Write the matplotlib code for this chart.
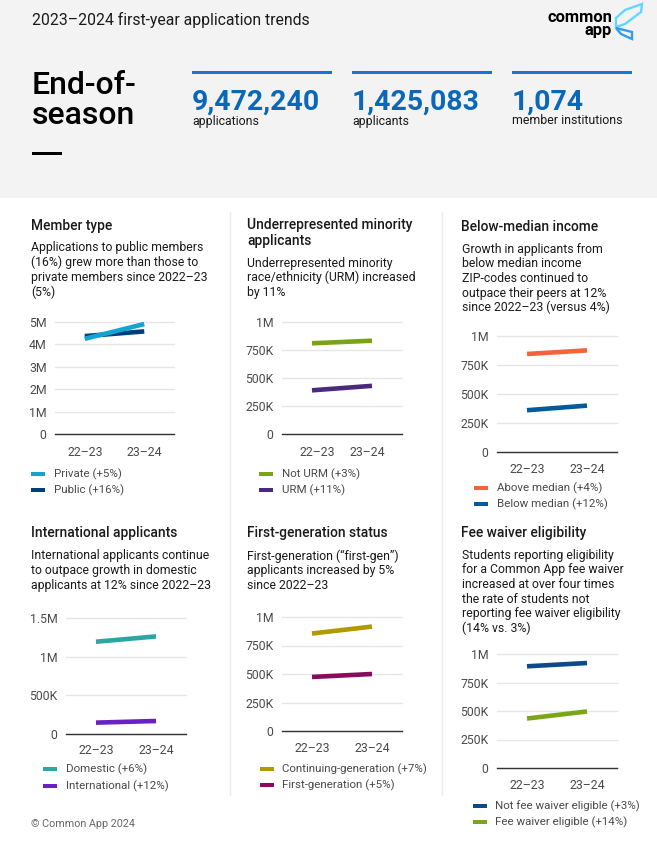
import matplotlib

matplotlib.use("Agg")
import matplotlib.pyplot as plt
from matplotlib.patches import Polygon, Rectangle
from matplotlib.transforms import ScaledTranslation

WIDTH = 657
HEIGHT = 852
BAND_COLOR = "#F3F3F3"
BLUE = "#0B68B8"
RULE_BLUE = "#1F72D0"
TEXT_COLOR = "#1A1A1A"
MUTED_COLOR = "#4A4A4A"
GRID_COLOR = "#E6E6E6"
DIVIDER_COLOR = "#EDEDED"

YEARS = ["22–23", "23–24"]

MEMBER_PRIVATE = [4.25e6, 4.91e6]
MEMBER_PUBLIC = [4.37e6, 4.58e6]
URM_NOT = [0.81e6, 0.833e6]
URM_YES = [0.39e6, 0.43e6]
INCOME_ABOVE = [0.845e6, 0.876e6]
INCOME_BELOW = [0.36e6, 0.40e6]
INTL_DOMESTIC = [1.193e6, 1.262e6]
INTL_INTERNATIONAL = [0.147e6, 0.168e6]
GEN_CONTINUING = [0.855e6, 0.916e6]
GEN_FIRST = [0.474e6, 0.50e6]
FEE_NOT = [0.892e6, 0.921e6]
FEE_ELIGIBLE = [0.434e6, 0.496e6]

TICKS_5M = [0, 1e6, 2e6, 3e6, 4e6, 5e6]
LABELS_5M = ["0", "1M", "2M", "3M", "4M", "5M"]
TICKS_1M = [0, 250e3, 500e3, 750e3, 1e6]
LABELS_1M = ["0", "250K", "500K", "750K", "1M"]
TICKS_15M = [0, 500e3, 1e6, 1.5e6]
LABELS_15M = ["0", "500K", "1M", "1.5M"]

STATS = [
    (192, 140, "9,472,240", "applications"),
    (352, 140, "1,425,083", "applicants"),
    (512, 120, "1,074", "member institutions"),
]

PANELS = [
    {
        "title": ["Member type"], "title_pos": (31, 226),
        "body": ["Applications to public members", "(16%) grew more than those to",
                 "private members since 2022–23", "(5%)"],
        "body_pos": (31, 248),
        "box": (55, 174, 322, 434), "ticks": TICKS_5M, "labels": LABELS_5M,
        "series": [("Public (+16%)", MEMBER_PUBLIC, "#003E7E"), ("Private (+5%)", MEMBER_PRIVATE, "#12A5D3")],
        "legend_order": [1, 0], "legend": (31, 54, 474, 490), "xlabel_y": 450, "shift": 0,
    },
    {
        "title": ["Underrepresented minority", "applicants"], "title_pos": (247, 225),
        "body": ["Underrepresented minority", "race/ethnicity (URM) increased", "by 11%"],
        "body_pos": (247, 263),
        "box": (282, 402, 322, 434), "ticks": TICKS_1M, "labels": LABELS_1M,
        "series": [("Not URM (+3%)", URM_NOT, "#7BA414"), ("URM (+11%)", URM_YES, "#4A2A7C")],
        "legend_order": [0, 1], "legend": (259, 282, 474, 490), "xlabel_y": 450, "shift": 5,
    },
    {
        "title": ["Below-median income"], "title_pos": (461, 227),
        "body": ["Growth in applicants from", "below median income", "ZIP-codes continued to",
                 "outpace their peers at 12%", "since 2022–23 (versus 4%)"],
        "body_pos": (462, 249),
        "box": (497, 617, 336, 452), "ticks": TICKS_1M, "labels": LABELS_1M,
        "series": [("Above median (+4%)", INCOME_ABOVE, "#F5633C"), ("Below median (+12%)", INCOME_BELOW, "#005A9C")],
        "legend_order": [0, 1], "legend": (474, 497, 488, 504), "xlabel_y": 467, "shift": 0,
    },
    {
        "title": ["International applicants"], "title_pos": (31, 533),
        "body": ["International applicants continue", "to outpace growth in domestic",
                 "applicants at 12% since 2022–23"],
        "body_pos": (31, 556),
        "box": (66, 186, 618, 734), "ticks": TICKS_15M, "labels": LABELS_15M,
        "series": [("Domestic (+6%)", INTL_DOMESTIC, "#2AA7A2"), ("International (+12%)", INTL_INTERNATIONAL, "#6A1FC7")],
        "legend_order": [0, 1], "legend": (43, 66, 769, 786), "xlabel_y": 748, "shift": 0,
    },
    {
        "title": ["First-generation status"], "title_pos": (247, 533),
        "body": ["First-generation (“first-gen”)", "applicants increased by 5%", "since 2022–23"],
        "body_pos": (247, 556),
        "box": (282, 402, 617, 731), "ticks": TICKS_1M, "labels": LABELS_1M,
        "series": [("Continuing-generation (+7%)", GEN_CONTINUING, "#B09A00"), ("First-generation (+5%)", GEN_FIRST, "#8A0A5E")],
        "legend_order": [0, 1], "legend": (260, 282, 769, 785), "xlabel_y": 746, "shift": 0,
    },
    {
        "title": ["Fee waiver eligibility"], "title_pos": (461, 533),
        "body": ["Students reporting eligibility", "for a Common App fee waiver",
                 "increased at over four times", "the rate of students not",
                 "reporting fee waiver eligibility", "(14% vs. 3%)"],
        "body_pos": (462, 555),
        "box": (497, 617, 654, 768), "ticks": TICKS_1M, "labels": LABELS_1M,
        "series": [("Not fee waiver eligible (+3%)", FEE_NOT, "#0D4A8A"), ("Fee waiver eligible (+14%)", FEE_ELIGIBLE, "#7BA616")],
        "legend_order": [0, 1], "legend": (473, 495, 806, 822), "xlabel_y": 783, "shift": 0,
    },
]


def px(value):
    # font sizes below are read in pixels, dpi is 100
    return value * 0.72


def draw_header(page):
    page.add_patch(Rectangle((0, 0), WIDTH, 198, facecolor=BAND_COLOR, edgecolor="none"))
    page.text(32, 20, "2023–2024 first-year application trends", fontsize=px(15.8),
              color=TEXT_COLOR, va="center")
    page.text(32, 86, "End-of-", fontsize=px(32), color="black", va="center", weight="medium")
    page.text(32, 115, "season", fontsize=px(32), color="black", va="center", weight="medium")
    page.add_patch(Rectangle((32, 151.5), 30, 3, facecolor="black", edgecolor="none"))

    for x_left, width, number, label in STATS:
        page.add_patch(Rectangle((x_left, 71), width, 2.5, facecolor=RULE_BLUE, edgecolor="none"))
        page.text(x_left, 110, number, fontsize=px(28.4), color=BLUE, weight="bold", va="baseline")
        page.text(x_left, 124.5, label, fontsize=px(12.35), color=TEXT_COLOR, va="baseline")


def draw_logo(page):
    page.text(612, 24, "common\napp", fontsize=px(16.5), weight="bold", color="black",
              ha="right", va="center", linespacing=0.8, multialignment="right")
    page.add_patch(Polygon([(642, 4), (641, 12), (625, 24), (616, 27), (616, 18), (625, 10)],
                           closed=True, facecolor="none", edgecolor="#5FD8FF", linewidth=1.7))
    page.add_patch(Polygon([(616, 28), (632, 32), (632, 39), (621, 34)],
                           closed=True, facecolor="none", edgecolor="#2F9DF0", linewidth=1.7))


def draw_dividers(page):
    for x_position in (229.5, 442):
        page.plot([x_position, x_position], [212, 795], color=DIVIDER_COLOR, linewidth=1)


def draw_panel_text(page, panel):
    x_title, y_title = panel["title_pos"]
    for index, line in enumerate(panel["title"]):
        page.text(x_title, y_title + index * 16, line, fontsize=px(13.8), weight="medium",
                  color=TEXT_COLOR, va="center")

    x_body, y_body = panel["body_pos"]
    for index, line in enumerate(panel["body"]):
        page.text(x_body, y_body + index * 14.7, line, fontsize=px(12.25),
                  color=TEXT_COLOR, va="center")


def draw_chart(figure, panel):
    left, right, top, bottom = panel["box"]
    axis = figure.add_axes([left / WIDTH, 1 - bottom / HEIGHT, (right - left) / WIDTH, (bottom - top) / HEIGHT])
    axis.set_facecolor("none")

    for _, values, color in panel["series"]:
        axis.plot([0, 1], values, color=color, linewidth=px(4.6), solid_capstyle="butt", zorder=3, clip_on=False)

    axis.set_xlim(-0.5, 1.5)
    axis.set_ylim(0, panel["ticks"][-1])
    axis.set_xticks([0, 1], YEARS)
    axis.set_yticks(panel["ticks"], panel["labels"])
    axis.tick_params(axis="both", length=0, labelsize=px(12.2), labelcolor=MUTED_COLOR)
    axis.tick_params(axis="y", pad=6)
    axis.tick_params(axis="x", pad=panel["xlabel_y"] - bottom - 7)
    axis.grid(axis="y", color=GRID_COLOR, linewidth=1)
    for line in axis.yaxis.get_gridlines():
        line.set_clip_on(False)
    axis.set_axisbelow(True)

    for side in ("top", "left", "right"):
        axis.spines[side].set_visible(False)
    axis.spines["bottom"].set_color("#333333")
    axis.spines["bottom"].set_linewidth(1)

    if panel["shift"]:
        # this panel has its year labels a little closer together
        for label, direction in zip(axis.get_xticklabels(), (1, -1)):
            offset = ScaledTranslation(direction * panel["shift"] * 0.01, 0, figure.dpi_scale_trans)
            label.set_transform(label.get_transform() + offset)


def draw_legend(page, panel):
    x_patch, x_text, y_first, y_second = panel["legend"]
    for series_index, y_position in zip(panel["legend_order"], (y_first, y_second)):
        label, _, color = panel["series"][series_index]
        page.add_patch(Rectangle((x_patch, y_position - 2), 14, 4, facecolor=color, edgecolor="none"))
        page.text(x_text, y_position, label, fontsize=px(11.5), color=MUTED_COLOR, va="center")


plt.rcParams["font.family"] = ["Roboto", "DejaVu Sans"]
figure = plt.figure(figsize=(WIDTH / 100, HEIGHT / 100), dpi=100, facecolor="white")

page = figure.add_axes([0, 0, 1, 1])
page.set_xlim(0, WIDTH)
page.set_ylim(HEIGHT, 0)
page.axis("off")

draw_header(page)
draw_logo(page)
draw_dividers(page)

for panel in PANELS:
    draw_panel_text(page, panel)
    draw_chart(figure, panel)
    draw_legend(page, panel)

page.text(31, 824, "© Common App 2024", fontsize=px(10.8), color="#666666", va="center")

figure.savefig("out.png", dpi=100, facecolor="white")
plt.close(figure)
